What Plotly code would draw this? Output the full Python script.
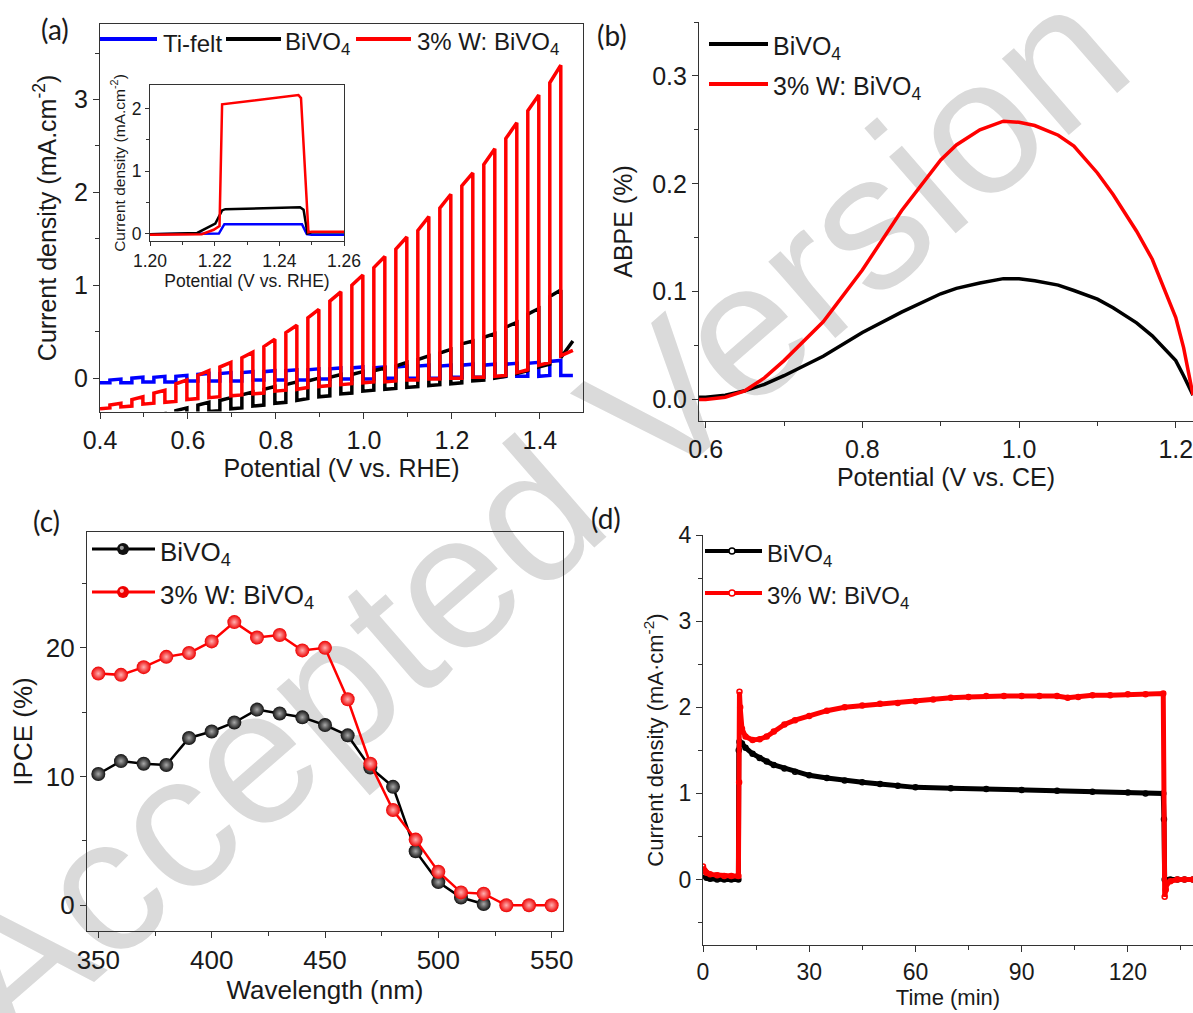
import plotly.graph_objects as go

# ---------------- data ----------------
# (a) chopped-light LSV: light-on / light-off potentials (V vs. RHE)
chop_on = [0.4225, 0.4725, 0.5225, 0.5725, 0.6225, 0.6725, 0.7225, 0.7725, 0.8225, 0.8725, 0.9225,
           0.9725, 1.0225, 1.0725, 1.1225, 1.1725, 1.2225, 1.2725, 1.3225, 1.3725, 1.4225]
chop_off = [0.4475, 0.4975, 0.5475, 0.5975, 0.6475, 0.6975, 0.7475, 0.7975, 0.8475, 0.8975, 0.9475,
            0.9975, 1.0475, 1.0975, 1.1475, 1.1975, 1.2475, 1.2975, 1.3475, 1.3975, 1.4475]
scan_start = 0.4
scan_end = 1.475

# Ti-felt
ti_start, ti_end = -0.05, 0.03
ti_dark_on = [-0.05, -0.05, -0.04, -0.04, -0.03, -0.03, -0.03, -0.02, -0.02, -0.02, -0.01,
              -0.01, -0.01, 0.00, 0.00, 0.00, 0.01, 0.01, 0.02, 0.02, 0.03]
ti_light_on = [-0.02, 0.00, 0.01, 0.02, 0.04, 0.05, 0.06, 0.07, 0.08, 0.09, 0.10,
               0.11, 0.11, 0.12, 0.13, 0.13, 0.14, 0.14, 0.15, 0.16, 0.18]
ti_light_off = [-0.01, 0.01, 0.02, 0.03, 0.05, 0.06, 0.07, 0.08, 0.09, 0.10, 0.11,
                0.12, 0.12, 0.13, 0.14, 0.14, 0.15, 0.15, 0.16, 0.17, 0.19]
ti_dark_off = [-0.05, -0.04, -0.04, -0.03, -0.03, -0.03, -0.02, -0.02, -0.02, -0.01, -0.01,
               -0.01, 0.00, 0.00, 0.00, 0.01, 0.01, 0.01, 0.02, 0.02, 0.03]

# BiVO4
bv_start, bv_end = -0.55, 0.40
bv_dark_on = [-0.53, -0.49, -0.45, -0.41, -0.38, -0.35, -0.32, -0.29, -0.26, -0.22, -0.19,
              -0.16, -0.13, -0.11, -0.09, -0.07, -0.05, -0.02, 0.02, 0.08, 0.15]
bv_light_on = [-0.50, -0.46, -0.41, -0.35, -0.29, -0.24, -0.18, -0.12, -0.07, -0.03, 0.01,
               0.04, 0.08, 0.13, 0.20, 0.27, 0.37, 0.44, 0.55, 0.69, 0.88]
bv_light_off = [-0.48, -0.44, -0.38, -0.32, -0.26, -0.21, -0.15, -0.09, -0.04, 0.00, 0.04,
                0.07, 0.11, 0.17, 0.24, 0.31, 0.40, 0.48, 0.60, 0.75, 0.95]
bv_dark_off = [-0.51, -0.47, -0.43, -0.39, -0.36, -0.33, -0.30, -0.27, -0.24, -0.20, -0.17,
               -0.14, -0.12, -0.10, -0.08, -0.06, -0.03, 0.00, 0.05, 0.12, 0.22]

# 3% W: BiVO4
w_start, w_end = -0.33, 0.30
w_dark_on = [-0.32, -0.30, -0.27, -0.25, -0.22, -0.20, -0.18, -0.16, -0.13, -0.10, -0.08,
             -0.06, -0.04, -0.03, -0.02, -0.01, 0.00, 0.01, 0.03, 0.09, 0.17]
w_light_on = [-0.29, -0.23, -0.16, -0.06, 0.03, 0.12, 0.22, 0.34, 0.49, 0.65, 0.83,
              1.00, 1.19, 1.39, 1.59, 1.83, 2.07, 2.30, 2.58, 2.88, 3.18]
w_light_off = [-0.27, -0.20, -0.13, -0.02, 0.08, 0.17, 0.28, 0.42, 0.57, 0.74, 0.93,
               1.11, 1.31, 1.52, 1.74, 1.98, 2.21, 2.47, 2.75, 3.05, 3.37]
w_dark_off = [-0.31, -0.28, -0.26, -0.23, -0.21, -0.19, -0.17, -0.14, -0.12, -0.09, -0.07,
              -0.05, -0.04, -0.02, -0.01, 0.00, 0.01, 0.02, 0.06, 0.14, 0.24]

# (a) inset: one light pulse
ins_ti_v = [1.200, 1.2156, 1.2213, 1.2230, 1.2470, 1.2485, 1.2500, 1.2600]
ins_ti_j = [-0.01, -0.01, 0.00, 0.15, 0.15, -0.01, -0.02, -0.02]
ins_bv_v = [1.200, 1.2146, 1.2202, 1.2223, 1.2233, 1.2464, 1.2475, 1.2487, 1.2500, 1.2600]
ins_bv_j = [-0.01, 0.01, 0.16, 0.37, 0.39, 0.42, 0.38, 0.00, 0.02, 0.02]
ins_w_v = [1.200, 1.2160, 1.2197, 1.2215, 1.2223, 1.2459, 1.2467, 1.2490, 1.2500, 1.2600]
ins_w_j = [-0.02, -0.01, 0.06, 0.12, 2.07, 2.22, 2.17, 0.02, 0.03, 0.03]

# (b) ABPE
abpe_v = [0.5915, 0.60, 0.625, 0.65, 0.675, 0.70, 0.75, 0.80, 0.85, 0.90, 0.92, 0.95, 0.98, 1.00,
          1.02, 1.05, 1.07, 1.10, 1.12, 1.15, 1.17, 1.20, 1.21, 1.222]
abpe_bv = [0.002, 0.002, 0.004, 0.008, 0.014, 0.022, 0.040, 0.062, 0.081, 0.098, 0.103, 0.108,
           0.112, 0.112, 0.110, 0.106, 0.101, 0.093, 0.085, 0.071, 0.059, 0.036, 0.022, 0.004]
abpe_w = [0.000, 0.000, 0.002, 0.008, 0.020, 0.036, 0.072, 0.120, 0.175, 0.222, 0.236, 0.250,
          0.258, 0.257, 0.254, 0.245, 0.235, 0.210, 0.190, 0.156, 0.130, 0.076, 0.048, 0.004]

# (c) IPCE
ipce_wl_bv = [350, 360, 370, 380, 390, 400, 410, 420, 430, 440, 450, 460, 470, 480, 490, 500, 510, 520]
ipce_bv = [10.2, 11.2, 11.0, 10.9, 13.0, 13.5, 14.2, 15.2, 14.9, 14.6, 14.0, 13.2, 10.7, 9.2, 4.2, 1.8, 0.6, 0.1]
ipce_wl_w = [350, 360, 370, 380, 390, 400, 410, 420, 430, 440, 450, 460, 470, 480, 490, 500, 510, 520, 530, 540, 550]
ipce_w = [18.0, 17.9, 18.5, 19.3, 19.6, 20.5, 22.0, 20.8, 21.0, 19.8, 20.0, 16.0, 11.0, 7.4, 5.1, 2.6, 1.0, 0.9, 0.0, 0.0, 0.0]

# (d) stability
t_bv = [0, 1, 2, 4, 6, 8, 10, 10.1, 10.3, 11, 12, 14, 16, 18, 20, 23, 26, 30, 35, 40, 45, 50, 55,
        60, 70, 80, 90, 100, 110, 120, 125, 130, 130.2, 130.4, 132, 134, 136, 138.4]
j_bv = [0.05, 0.02, 0.01, 0.00, 0.00, 0.00, 0.00, 1.50, 1.60, 1.58, 1.53, 1.46, 1.41, 1.37, 1.33,
        1.29, 1.25, 1.21, 1.18, 1.15, 1.13, 1.11, 1.09, 1.07, 1.06, 1.05, 1.04, 1.03, 1.02, 1.01,
        1.00, 1.00, 0.70, 0.00, 0.00, 0.00, 0.00, 0.00]
t_w = [0, 0.5, 1, 2, 4, 6, 8, 10, 10.2, 10.3, 10.5, 11, 12, 14, 16, 18, 20, 23, 26, 30, 35, 40,
       45, 50, 55, 60, 65, 70, 75, 80, 85, 90, 95, 100, 103, 106, 110, 115, 120, 125, 130,
       130.4, 130.7, 131, 132, 134, 136, 138.4]
j_w = [0.15, 0.10, 0.08, 0.06, 0.05, 0.04, 0.04, 0.04, 1.13, 2.18, 2.00, 1.75, 1.66, 1.62, 1.63,
       1.66, 1.72, 1.80, 1.85, 1.90, 1.96, 2.00, 2.02, 2.04, 2.05, 2.07, 2.09, 2.11, 2.12, 2.13,
       2.13, 2.13, 2.13, 2.13, 2.11, 2.12, 2.14, 2.14, 2.15, 2.15, 2.16, -0.20, -0.12, -0.05,
       -0.02, 0.00, 0.00, 0.00]

# ---------------- helpers ----------------
W, H = 1193, 1013
FONT = "Liberation Sans, Arial, sans-serif"
AX = "#333333"
TXT = "#1a1a1a"
BLUE, BLACK, RED = "#0000ff", "#000000", "#ff0000"
SUB = "BiVO<sub>4</sub>"
WSUB = "3% W: BiVO<sub>4</sub>"


def dx(a, b):
    return [a / W, min(b / W, 1.0)]


def dy(top, bottom):
    return [1 - bottom / H, 1 - top / H]


def px(x):
    return x / W


def py(y):
    return 1 - y / H


def chopped(j0, dark_on, light_on, light_off, dark_off, j1):
    xs, ys = [scan_start], [j0]
    for i in range(len(chop_on)):
        xs += [chop_on[i], chop_on[i], chop_off[i], chop_off[i]]
        ys += [dark_on[i], light_on[i], light_off[i], dark_off[i]]
    xs.append(scan_end)
    ys.append(j1)
    return xs, ys


def axis(domain, rng, dtick, minor_dtick, anchor, fsize=25, fmt=None, mirror=True, title=None,
         tsize=25, standoff=6):
    d = dict(domain=domain, range=rng, anchor=anchor, showgrid=False, zeroline=False,
             automargin=False, ticklabeloverflow="allow",
             showline=True, linecolor=AX, linewidth=1.2, mirror=mirror,
             ticks="outside", ticklen=6, tickwidth=1.2, tickcolor=AX,
             dtick=dtick, tick0=0, tickfont=dict(family=FONT, size=fsize, color=TXT),
             minor=dict(ticks="outside", ticklen=4, tickwidth=1.2, tickcolor=AX, dtick=minor_dtick,
                        tick0=0, showgrid=False))
    if fmt:
        d["tickformat"] = fmt
    if title:
        d["title"] = dict(text=title, font=dict(family=FONT, size=tsize, color=TXT),
                          standoff=standoff)
    return d


fig = go.Figure()

# (a) main
for name, col, arrs in [("Ti-felt", BLUE, (ti_start, ti_dark_on, ti_light_on, ti_light_off, ti_dark_off, ti_end)),
                        (SUB, BLACK, (bv_start, bv_dark_on, bv_light_on, bv_light_off, bv_dark_off, bv_end)),
                        (WSUB, RED, (w_start, w_dark_on, w_light_on, w_light_off, w_dark_off, w_end))]:
    xs, ys = chopped(*arrs)
    fig.add_trace(go.Scatter(x=xs, y=ys, mode="lines", name=name, line=dict(color=col, width=3.5),
                             xaxis="x", yaxis="y", showlegend=False))

# (a) inset
for xs, ys, col in [(ins_ti_v, ins_ti_j, BLUE), (ins_bv_v, ins_bv_j, BLACK), (ins_w_v, ins_w_j, RED)]:
    fig.add_trace(go.Scatter(x=xs, y=ys, mode="lines", line=dict(color=col, width=2.5),
                             xaxis="x5", yaxis="y5", showlegend=False))

# (b)
fig.add_trace(go.Scatter(x=abpe_v, y=abpe_bv, mode="lines", name=SUB, line=dict(color=BLACK, width=3.5),
                         xaxis="x2", yaxis="y2", showlegend=False))
fig.add_trace(go.Scatter(x=abpe_v, y=abpe_w, mode="lines", name=WSUB, line=dict(color=RED, width=3.5),
                         xaxis="x2", yaxis="y2", showlegend=False))

# (c)
fig.add_trace(go.Scatter(x=ipce_wl_bv, y=ipce_bv, mode="lines+markers", name=SUB,
                         line=dict(color=BLACK, width=2.5),
                         marker=dict(size=14, color="#111111", line=dict(width=0),
                                     gradient=dict(type="radial", color="#a8a8a8")),
                         xaxis="x3", yaxis="y3", showlegend=False))
fig.add_trace(go.Scatter(x=ipce_wl_w, y=ipce_w, mode="lines+markers", name=WSUB,
                         line=dict(color=RED, width=2.5),
                         marker=dict(size=14, color="#ee0000", line=dict(width=0),
                                     gradient=dict(type="radial", color="#ffb0b0")),
                         xaxis="x3", yaxis="y3", showlegend=False))

# (d)
fig.add_trace(go.Scatter(x=t_bv, y=j_bv, mode="lines+markers", name=SUB,
                         line=dict(color=BLACK, width=5),
                         marker=dict(symbol="circle-open", size=5, color=BLACK, line=dict(width=1.5)),
                         xaxis="x4", yaxis="y4", showlegend=False))
fig.add_trace(go.Scatter(x=t_w, y=j_w, mode="lines+markers", name=WSUB,
                         line=dict(color=RED, width=5),
                         marker=dict(symbol="circle-open", size=5, color=RED, line=dict(width=1.5)),
                         xaxis="x4", yaxis="y4", showlegend=False))

# ---------------- axes ----------------
lay = dict(
    xaxis=axis(dx(100, 583), [0.4, 1.498], 0.2, 0.1, "y", fmt=".1f", title="Potential (V vs. RHE)", standoff=2),
    yaxis=axis(dy(24.3, 411.6), [-0.36, 3.81], 1, 0.5, "x", title="Current density (mA.cm<sup>-2</sup>)",
               standoff=10),
    xaxis2=axis(dx(699, 1193), [0.5915, 1.222], 0.2, 0.1, "y2", fmt=".1f", mirror=False,
                title="Potential (V vs. CE)", standoff=4),
    yaxis2=axis(dy(22, 421), [-0.02, 0.35], 0.1, 0.05, "x2", fmt=".1f", mirror=False,
                title="ABPE (%)", standoff=12),
    xaxis3=axis(dx(87, 563), [345, 555], 50, 25, "y3", fsize=26, tsize=26, title="Wavelength (nm)", standoff=2),
    yaxis3=axis(dy(532, 931), [-2, 29], 10, 5, "x3", fsize=26, tsize=26, title="IPCE (%)", standoff=5),
    xaxis4=axis(dx(703, 1193), [0, 138.4], 30, 15, "y4", fsize=23, mirror=False, title="Time (min)",
                tsize=22, standoff=2),
    yaxis4=axis(dy(535, 945), [-0.76, 4], 1, 0.5, "x4", fsize=23, mirror=False,
                title="Current density (mA·cm<sup>-2</sup>)", tsize=22, standoff=8),
    xaxis5=axis(dx(150, 344), [1.20, 1.26], 0.02, 0.01, "y5", fsize=17.5, fmt=".2f",
                title="Potential (V vs. RHE)", tsize=17.5, standoff=1),
    yaxis5=axis(dy(85, 241), [-0.12, 2.38], 1, 0.5, "x5", fsize=17.5,
                title="Current density (mA.cm<sup>-2</sup>)", tsize=15.5, standoff=2),
)
for k in ["xaxis5", "yaxis5"]:
    lay[k]["ticklen"] = 4
    lay[k]["minor"]["ticklen"] = 3

fig.update_layout(
    width=W, height=H, margin=dict(l=0, r=0, t=0, b=0, autoexpand=False),
    paper_bgcolor="white", plot_bgcolor="rgba(0,0,0,0)",
    font=dict(family=FONT, color=TXT), showlegend=False,
    **lay,
)

# inset background
fig.add_shape(type="rect", xref="paper", yref="paper", x0=px(150), x1=px(344), y0=py(241), y1=py(85),
              fillcolor="white", line=dict(width=0), layer="below")

# watermark (behind the data)
fig.add_shape(type="line", xref="paper", yref="paper", x0=px(293.5), y0=py(696.8), x1=px(746.5), y1=py(303.2),
              line=dict(width=0, color="rgba(0,0,0,0)"), layer="below",
              label=dict(text="Accepted Version", textposition="middle", yanchor="middle",
                         font=dict(family=FONT, size=192, color="#dadada")))


# ---------------- legends (drawn as keys + text) ----------------
def key_line(x0, x1, y, color, width=4):
    fig.add_shape(type="line", xref="paper", yref="paper", x0=px(x0), x1=px(x1), y0=py(y), y1=py(y),
                  line=dict(color=color, width=width))


def key_text(x, y, text, size):
    fig.add_annotation(text=text, x=px(x), y=py(y), xref="paper", yref="paper", showarrow=False,
                       xanchor="left", yanchor="middle", font=dict(family=FONT, size=size, color=TXT))


def key_dot(x, y, r, fill, hi=None, outline=None):
    fig.add_shape(type="circle", xref="paper", yref="paper", x0=px(x - r), x1=px(x + r),
                  y0=py(y + r), y1=py(y - r), fillcolor=fill,
                  line=dict(color=outline or fill, width=1.5 if outline else 0))
    if hi:
        fig.add_shape(type="circle", xref="paper", yref="paper", x0=px(x - r * 0.55), x1=px(x + r * 0.15),
                      y0=py(y + r * 0.15), y1=py(y - r * 0.55), fillcolor=hi, line=dict(width=0))


# (a)
key_line(100, 157, 39, BLUE)
key_text(161, 43, "Ti-felt", 24)
key_line(226, 281, 39, BLACK)
key_text(283, 43, SUB, 24)
key_line(356, 411, 39, RED)
key_text(415, 43, WSUB, 24)
# (b)
key_line(709, 768, 44, BLACK)
key_text(771, 48, SUB, 25)
key_line(709, 768, 84, RED)
key_text(771, 88, WSUB, 25)
# (c)
key_line(92, 155, 549, BLACK, 3)
key_dot(123, 549, 6, "#111111", hi="#9a9a9a")
key_text(158, 553, SUB, 26)
key_line(92, 155, 592, RED, 3)
key_dot(123, 592, 6, "#ee0000", hi="#ffb3b3")
key_text(158, 596, WSUB, 26)
# (d)
key_line(705, 762, 551, BLACK, 4)
key_dot(732, 551, 3, "white", outline=BLACK)
key_text(765, 555, SUB, 24)
key_line(705, 762, 593, RED, 4)
key_dot(732, 593, 3, "white", outline=RED)
key_text(765, 597, WSUB, 24)

# panel labels
for txt, x, y in [("(a)", 55, 29), ("(b)", 612, 35), ("(c)", 46, 521), ("(d)", 606, 518)]:
    fig.add_annotation(text=txt, x=px(x), y=py(y), xref="paper", yref="paper", showarrow=False,
                       xanchor="center", yanchor="middle", font=dict(family="Lato, Open Sans, sans-serif",
                                                                      size=28, color=TXT))

fig.write_html("out.html", config={"displayModeBar": False},
               post_script="document.body.style.margin='0px';document.body.style.padding='0px';")
